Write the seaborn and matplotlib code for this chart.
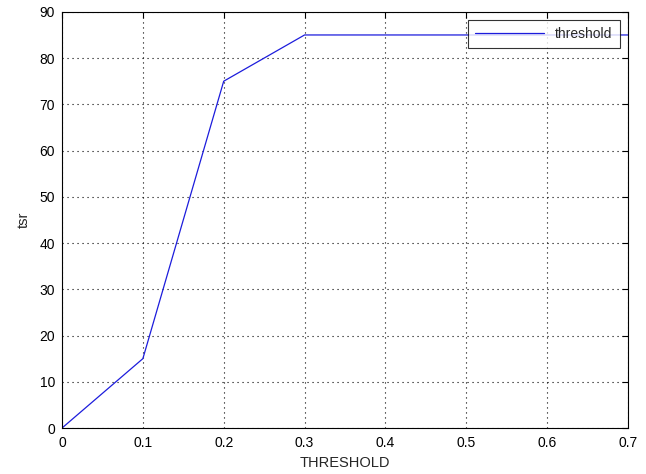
import matplotlib
matplotlib.use('Agg')
from matplotlib import pyplot as plt
import seaborn as sns
import pandas as pd

# data
threshold = [0, 0.1, 0.2, 0.3, 0.4, 0.5, 0.6, 0.7]
tsr = [0, 15, 75, 85, 85, 85, 85, 85]
df = pd.DataFrame({'THRESHOLD': threshold, 'tsr': tsr})

sns.set_style('white')
plt.rcParams['font.family'] = ['Liberation Sans', 'DejaVu Sans']

fig = plt.figure(figsize=(6.46, 4.74), dpi=100)
ax = fig.add_axes([0.096, 0.097, 0.876, 0.878])

sns.lineplot(data=df, x='THRESHOLD', y='tsr', color='#1c1cdc', linewidth=0.9,
             label='threshold', ax=ax)

ax.set_xlim(0, 0.7)
ax.set_ylim(0, 90)
ax.set_xticks([0, 0.1, 0.2, 0.3, 0.4, 0.5, 0.6, 0.7])
ax.set_xticklabels(['0', '0.1', '0.2', '0.3', '0.4', '0.5', '0.6', '0.7'])
ax.set_yticks(range(0, 91, 10))
ax.grid(True, color='black', linestyle=(0, (1, 3.5)), linewidth=0.8)
ax.tick_params(direction='in', top=True, right=True, length=4, width=0.8,
               labelsize=10, colors='black')
ax.tick_params(axis='x', pad=6)
ax.tick_params(axis='y', pad=5)
for s in ax.spines.values():
    s.set_color('black')
    s.set_linewidth(0.8)
ax.set_xlabel('THRESHOLD', fontsize=10.5, labelpad=4)
ax.set_ylabel('tsr', fontsize=10.5, labelpad=6)

leg = ax.legend(loc='upper right', fontsize=10, frameon=True, fancybox=False,
                edgecolor='black', handlelength=5, borderaxespad=0.6,
                borderpad=0.5)
leg.get_frame().set_linewidth(0.8)

fig.savefig('out.png', dpi=100)
